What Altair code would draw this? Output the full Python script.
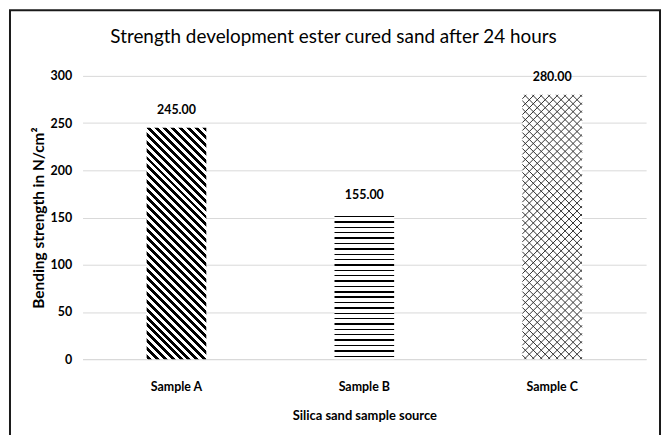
import math
import altair as alt
import pandas as pd

# ---- data ----
samples = ["Sample A", "Sample B", "Sample C"]
strength = [245.0, 155.0, 280.0]
y_ticks = [0, 50, 100, 150, 200, 250, 300]

df = pd.DataFrame({"sample": samples, "strength": strength})

# ---- layout ----
PLOT_W, PLOT_H = 567, 285
Y_MAX = 300
n = len(samples)
step = PLOT_W / n
BAR_W = 60.0
pad_inner = 1 - BAR_W / step
yscale = PLOT_H / Y_MAX
FONT = "Lato"


def stripe_stops(smin, smax, period, width, phase, on, off):
    rng = smax - smin

    def col(s):
        return on if ((s - phase) % period) < width else off

    stops = [alt.GradientStop(offset=0, color=col(smin + 1e-6))]
    m = math.floor((smin - phase) / period) - 1
    while phase + m * period <= smax:
        for b, after, before in ((phase + m * period, on, off),
                                 (phase + m * period + width, off, on)):
            if smin < b < smax:
                t = round((b - smin) / rng, 5)
                stops.append(alt.GradientStop(offset=t, color=before))
                stops.append(alt.GradientStop(offset=t, color=after))
        m += 1
    stops.append(alt.GradientStop(offset=1, color=col(smax - 1e-6)))
    return stops


def back_diag(H, period, width, phase, on, off):
    # stripes running top-left -> bottom-right ("\"), s = x - y
    W = BAR_W
    k = (W + H) / (W * W + H * H)
    return alt.LinearGradient(
        gradient="linear", x1=0, y1=1, x2=k * W, y2=1 - k * H,
        stops=stripe_stops(-H, W, period, width, phase, on, off))


def horiz(H, period, width, phase, on, off):
    return alt.LinearGradient(
        gradient="linear", x1=0, y1=0, x2=0, y2=1,
        stops=stripe_stops(0, H, period, width, phase, on, off))


vA, vB, vC = strength
fill_A = back_diag(vA * yscale, 8, 4, 0, "#000000", "#ffffff")
fill_B = horiz(vB * yscale, 5.4, 1.4, 3.2, "#000000", "#ffffff")


# cross-hatch lines for Sample C, derived from its value
def cross_hatch(idx, value, period, phase):
    W, H = BAR_W, value * yscale
    rows = []

    def to_data(px, py):
        return idx + 0.5 + (px - W / 2) / step, value - py / yscale

    s = phase - H - period
    while s <= W + period:
        xa, xb = max(0.0, s), min(W, H + s)
        if xb - xa > 0.2:
            (x0, y0), (x1, y1) = to_data(xa, xa - s), to_data(xb, xb - s)
            rows.append({"x0": x0, "y0": y0, "x1": x1, "y1": y1})
        s += period
    s = phase
    while s <= W + H + period:
        xa, xb = max(0.0, s - H), min(W, s)
        if xb - xa > 0.2:
            (x0, y0), (x1, y1) = to_data(xa, s - xa), to_data(xb, s - xb)
            rows.append({"x0": x0, "y0": y0, "x1": x1, "y1": y1})
        s += period
    return pd.DataFrame(rows)


hatch_C = cross_hatch(samples.index("Sample C"), vC, 8, 4)

x_enc = alt.X(
    "sample:N", sort=samples,
    scale=alt.Scale(paddingInner=pad_inner, paddingOuter=pad_inner / 2),
    axis=alt.Axis(title="Silica sand sample source", labelAngle=0, ticks=False,
                  domainColor="#d9d9d9", domainWidth=1,
                  labelFont=FONT, labelFontSize=12.5, labelFontWeight="bold",
                  labelColor="#000000", labelPadding=22,
                  titleFont=FONT, titleFontSize=13, titleFontWeight="bold",
                  titleColor="#000000", titlePadding=16))
y_scale = alt.Scale(domain=[0, Y_MAX], nice=False)
y_axis = alt.Axis(title="Bending strength in N/cm²", values=y_ticks,
                  grid=True, gridColor="#d9d9d9", gridWidth=1,
                  domain=False, ticks=False,
                  labelFont=FONT, labelFontSize=12.5, labelFontWeight="bold",
                  labelColor="#000000", labelPadding=11,
                  titleFont=FONT, titleFontSize=15.5, titleFontWeight="bold",
                  titleColor="#000000", titlePadding=4)
y_enc = alt.Y("strength:Q", scale=y_scale, axis=y_axis)

base = alt.Chart(df)


def bar(name, fill):
    return base.transform_filter(alt.datum.sample == name).mark_bar(
        fill=fill, strokeWidth=0).encode(x=x_enc, y=y_enc)


bars = alt.layer(
    bar("Sample A", fill_A),
    bar("Sample B", fill_B),
    bar("Sample C", "#ffffff"),
    base.mark_text(dy=-18, font=FONT, fontSize=12.5, fontWeight="bold",
                   color="#000000").encode(
        x=x_enc, y=y_enc, text=alt.Text("strength:Q", format=".2f")),
)

hatch = alt.Chart(hatch_C).mark_rule(
    color="#303030", strokeWidth=1).encode(
    x=alt.X("x0:Q", scale=alt.Scale(domain=[0, n], nice=False, zero=False),
            axis=None),
    x2="x1:Q",
    y=alt.Y("y0:Q", scale=y_scale, axis=y_axis),
    y2="y1:Q")

border = alt.Chart(pd.DataFrame({"b": [0]})).mark_rect(
    filled=False, stroke="#1a1a1a", strokeWidth=2, clip=False).encode(
    x=alt.value(-73), x2=alt.value(581), y=alt.value(-66), y2=alt.value(380))

chart = alt.layer(border, bars, hatch).resolve_scale(
    x="independent"
).properties(
    width=PLOT_W, height=PLOT_H,
    autosize=alt.AutoSizeParams(type="none"),
    padding={"left": 75, "top": 67, "right": 16, "bottom": 75},
    background="#ffffff",
    title=alt.TitleParams(
        "Strength development ester cured sand after 24 hours",
        font=FONT, fontSize=19, fontWeight="normal", color="#000000",
        anchor="middle", frame="group", baseline="middle",
        dx=-31, offset=-47),
).configure_view(stroke="transparent")

chart.save("out.html", embed_options={"renderer": "svg", "actions": False})
